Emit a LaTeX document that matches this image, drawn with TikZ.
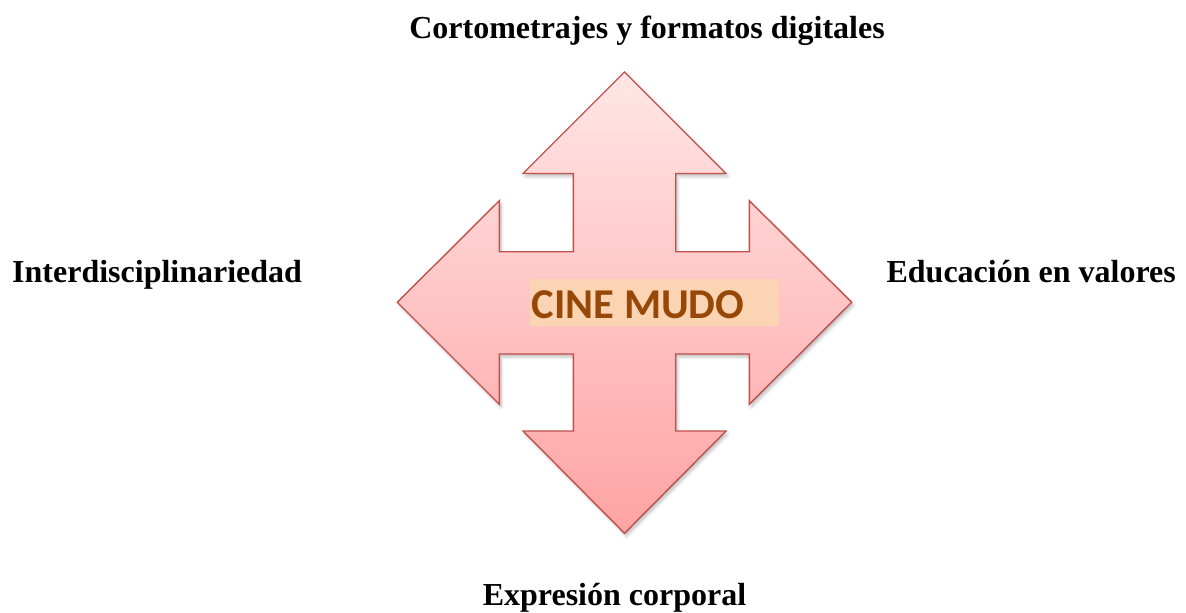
\documentclass[tikz,border=0pt]{standalone}
\usepackage{fontspec}
\setmainfont{Liberation Serif}
\newfontfamily\calibrifont{Carlito}
\usetikzlibrary{shadows,shadows.blur}
\definecolor{arrowedge}{HTML}{C0504D}
\definecolor{arrowtop}{HTML}{FFE6E6}
\definecolor{arrowbot}{HTML}{FFA3A3}
\definecolor{peach}{HTML}{FBD4B4}
\definecolor{cinetext}{HTML}{984806}
\tikzset{
  sidelabel/.style={inner sep=0pt, font=\fontsize{32}{35}\selectfont\bfseries, text=black},
  bigarrow/.style={draw=arrowedge, line width=1.4pt, line join=miter, top color=arrowtop, bottom color=arrowbot,
    blur shadow={shadow xshift=2pt, shadow yshift=-3pt, shadow blur radius=3pt, shadow opacity=25}},
}
\begin{document}
\begin{tikzpicture}[x=1pt,y=-1pt]
\useasboundingbox (0,0) rectangle (1186,613);
% four-way arrow
\path[bigarrow]
  (624.5,72) -- (726,173.5) -- (675.7,173.5) -- (675.7,251.7) -- (749.3,251.7) -- (749.3,200.7)
  -- (851.7,302.3) -- (749.3,404.3) -- (749.3,354) -- (675.7,354) -- (675.7,431) -- (726,431)
  -- (624.5,533.3) -- (523,431) -- (573.3,431) -- (573.3,354) -- (499.3,354) -- (499.3,404.3)
  -- (397.3,302.3) -- (499.3,200.7) -- (499.3,251.7) -- (573.3,251.7) -- (573.3,173.5) -- (523,173.5) -- cycle;
% centre label
\node (cinebox) [fill=peach, inner sep=0pt, minimum width=249pt, minimum height=47.4pt, anchor=north west] at (530,278.3) {};
\node (cine) [inner sep=0pt, anchor=base west, text=cinetext, font=\calibrifont\fontsize{42.5}{45}\selectfont\bfseries] at (531.7,318.3) {CINE MUDO};
% side labels
\node (top) [sidelabel, anchor=base] at (647,38.3) {Cortometrajes y formatos digitales};
\node (left) [sidelabel, anchor=base west] at (12,282.3) {Interdisciplinariedad};
\node (right) [sidelabel, anchor=base east] at (1176,282.3) {Educación en valores};
\node (bottom) [sidelabel, anchor=base] at (614.5,605.5) {Expresión corporal};
\end{tikzpicture}
\end{document}
